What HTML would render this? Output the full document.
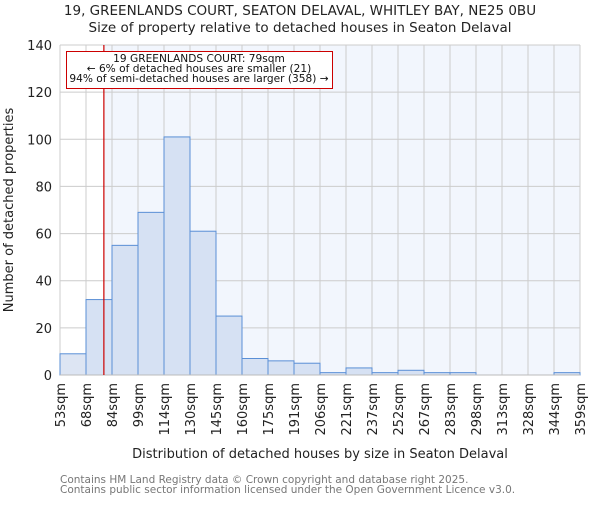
<!DOCTYPE html>
<html><head><meta charset="utf-8"><style>
body{margin:0;background:#fff}
text{font-family:"DejaVu Sans","Liberation Sans",sans-serif}
</style></head><body>
<svg id="chart" width="600" height="500" xmlns="http://www.w3.org/2000/svg">
<text x="300" y="15" text-anchor="middle" font-size="13.5" fill="#222">19, GREENLANDS COURT, SEATON DELAVAL, WHITLEY BAY, NE25 0BU</text>
<text x="300" y="32" text-anchor="middle" font-size="13.5" fill="#222">Size of property relative to detached houses in Seaton Delaval</text>
<g id="plot"></g>
<text transform="translate(13,210) rotate(-90)" text-anchor="middle" font-size="13" fill="#222">Number of detached properties</text>
<text x="320" y="458" text-anchor="middle" font-size="13" fill="#222">Distribution of detached houses by size in Seaton Delaval</text>
<text x="60" y="483" font-size="10.5" fill="#777">Contains HM Land Registry data © Crown copyright and database right 2025.</text>
<text x="60" y="493" font-size="10.5" fill="#777">Contains public sector information licensed under the Open Government Licence v3.0.</text>
</svg>
<script>
const binLabels=["53sqm","68sqm","84sqm","99sqm","114sqm","130sqm","145sqm","160sqm","175sqm","191sqm","206sqm","221sqm","237sqm","252sqm","267sqm","283sqm","298sqm","313sqm","328sqm","344sqm","359sqm"];
const binEdges=[53,68,84,99,114,130,145,160,175,191,206,221,237,252,267,283,298,313,328,344,359];
const counts=[9,32,55,69,101,61,25,7,6,5,1,3,1,2,1,1,0,0,0,1];
const yTicks=[0,20,40,60,80,100,120,140];
const subjectSize=79;
const NS="http://www.w3.org/2000/svg";
const L=60,R=580,T=45,B=375,yMax=140;
const n=counts.length,bw=(R-L)/n;
const xi=i=>L+i*bw;
function xv(v){let i=0;while(i<binEdges.length-2&&v>binEdges[i+1])i++;return xi(i)+bw*(v-binEdges[i])/(binEdges[i+1]-binEdges[i]);}
const y=v=>B-(B-T)*v/yMax;
const g=document.getElementById('plot');
function mk(t,a){const e=document.createElementNS(NS,t);for(const k in a)e.setAttribute(k,a[k]);g.appendChild(e);return e;}
const sx=xv(subjectSize);
let e=mk('rect',{x:L,y:T,width:sx-L,height:B-T,fill:'#ffffff'});


e=mk('rect',{x:sx,y:T,width:R-sx,height:B-T,fill:'#f2f6fd'});


for(let i=0;i<=n;i++){e=mk('line',{x1:xi(i),x2:xi(i),y1:T,y2:B,stroke:'#cccccc','stroke-width':1});

}
yTicks.forEach(t=>{e=mk('line',{x1:L,x2:R,y1:y(t),y2:y(t),stroke:'#cccccc','stroke-width':1});


e=mk('text',{x:L-8,y:y(t)+5,'text-anchor':'end','font-size':13,fill:'#222'});e.textContent=t;

});
counts.forEach((c,i)=>{if(c<=0)return;e=mk('rect',{x:xi(i),y:y(c),width:bw,height:B-y(c),fill:xi(i+1)<=sx?'#dde5f3':'#d6e1f3',stroke:'#5a8fd6','stroke-width':1});

});
e=mk('line',{x1:L,x2:R,y1:B,y2:B,stroke:'#bbbbbb','stroke-width':1});


binLabels.forEach((l,i)=>{const x=xi(i);e=mk('text',{transform:`translate(${x+5},${B+8}) rotate(-90)`,'text-anchor':'end','font-size':13,fill:'#222'});e.textContent=l;

});
e=mk('line',{x1:sx,x2:sx,y1:T,y2:B,stroke:'#cc0000','stroke-width':1.2});


e=mk('rect',{x:66.5,y:51.5,width:266,height:37,fill:'#fff',stroke:'#cc0000','stroke-width':1});


["19 GREENLANDS COURT: 79sqm","← 6% of detached houses are smaller (21)","94% of semi-detached houses are larger (358) →"].forEach((s,k)=>{e=mk('text',{x:199,y:62+k*10,'text-anchor':'middle','font-size':10.6,fill:'#111'});e.textContent=s;

});
</script>
</body></html>
